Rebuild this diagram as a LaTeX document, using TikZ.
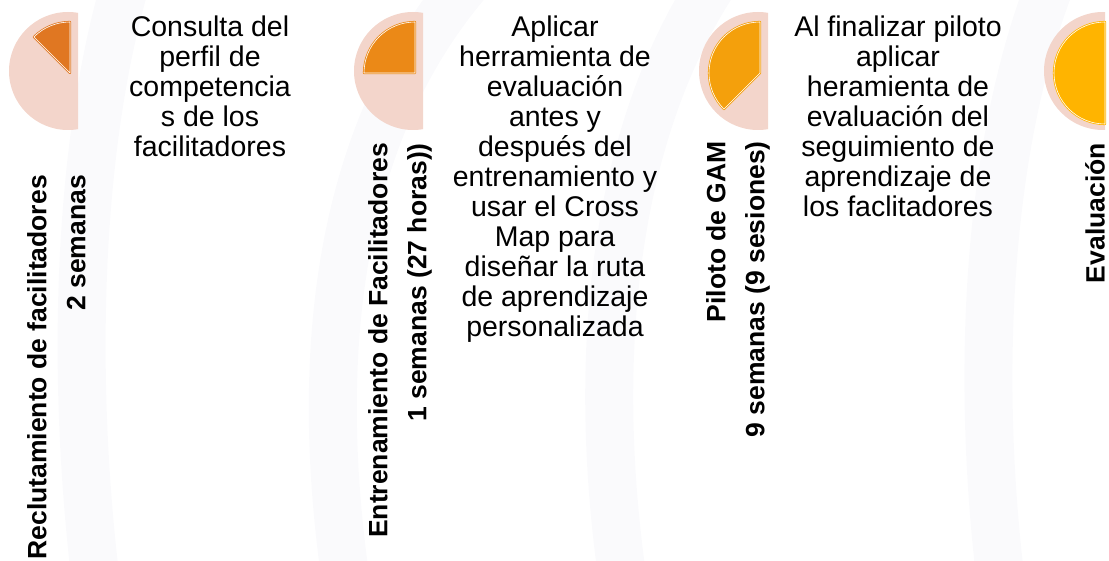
\documentclass[tikz,border=0pt]{standalone}
\usepackage{fontspec}
\setmainfont{Liberation Sans}
\usetikzlibrary{positioning}
\definecolor{ringpink}{HTML}{F3D5CB}
\definecolor{pieA}{HTML}{E07722}
\definecolor{pieB}{HTML}{EB8917}
\definecolor{pieC}{HTML}{F4A00C}
\definecolor{pieD}{HTML}{FFB400}
\definecolor{shade}{HTML}{FAFAFC}
\tikzset{
  phaselabel/.style={rotate=90, anchor=east, align=right, inner sep=0pt,
    font=\fontsize{26.5}{39}\selectfont\bfseries}, % vertical step titles
  notetext/.style={anchor=north, align=center, inner sep=0pt,
    font=\fontsize{28.5}{30}\selectfont},
  piece/.style={fill=#1, draw=#1, double=white, double distance=0.6pt,
    line width=0.8pt, line join=round},
  band/.style={draw=shade, line width=48pt, line cap=round},
}

\begin{document}
\begin{tikzpicture}[x=1pt,y=1pt]
  \useasboundingbox (0,0) rectangle (1109,560);

  % faint background sweeps
  \begin{scope}
    \clip (0,0) rectangle (1109,560);
    \draw[band] (125,575) .. controls (80,420) and (70,200) .. (95,-15);
    \draw[band] (465,575) .. controls (335,420) and (315,200) .. (345,-15);
    \draw[band] (712,575) .. controls (612,420) and (592,200) .. (622,-15);
    \draw[band] (1050,575) .. controls (990,420) and (975,200) .. (1000,-15);
  \end{scope}

  % rings with their progress slices
  \foreach \cx/\cut/\ang/\col in {68/78/135/pieA, 413/423/180/pieB,
      758/768/225/pieC, 1103/1105/270/pieD}{
    \begin{scope}
      \clip (\cx-70,420) rectangle (\cut,560);
      \fill[ringpink] (\cx,489) circle (59);
    \end{scope}
    \filldraw[piece=\col] (\cx+2,487) -- ++(90:51)
      arc[start angle=90, end angle=\ang, radius=51] -- cycle;
  }

  \node[phaselabel] (recl) at (56.5,385) {Reclutamiento de facilitadores\\2 semanas};
  \node[phaselabel] (entr) at (400,417) {Entrenamiento de Facilitadores\\1 semanas (27 horas))};
  \node[phaselabel] (pilo) at (738,419) {Piloto de GAM\\9 semanas (9 sesiones)};
  \node[phaselabel] (eval) at (1095,417) {Evaluación};

  \node[notetext] (consulta) at (210,544) {Consulta del\\perfil de\\competencia\\s de los\\facilitadores};
  \node[notetext] (aplicar) at (555,544) {Aplicar\\herramienta de\\evaluación\\antes y\\después del\\entrenamiento y\\usar el Cross\\Map para\\diseñar la ruta\\de aprendizaje\\personalizada};
  \node[notetext] (final) at (898,544) {Al finalizar piloto\\aplicar\\heramienta de\\evaluación del\\seguimiento de\\aprendizaje de\\los faclitadores};

\end{tikzpicture}
\end{document}
